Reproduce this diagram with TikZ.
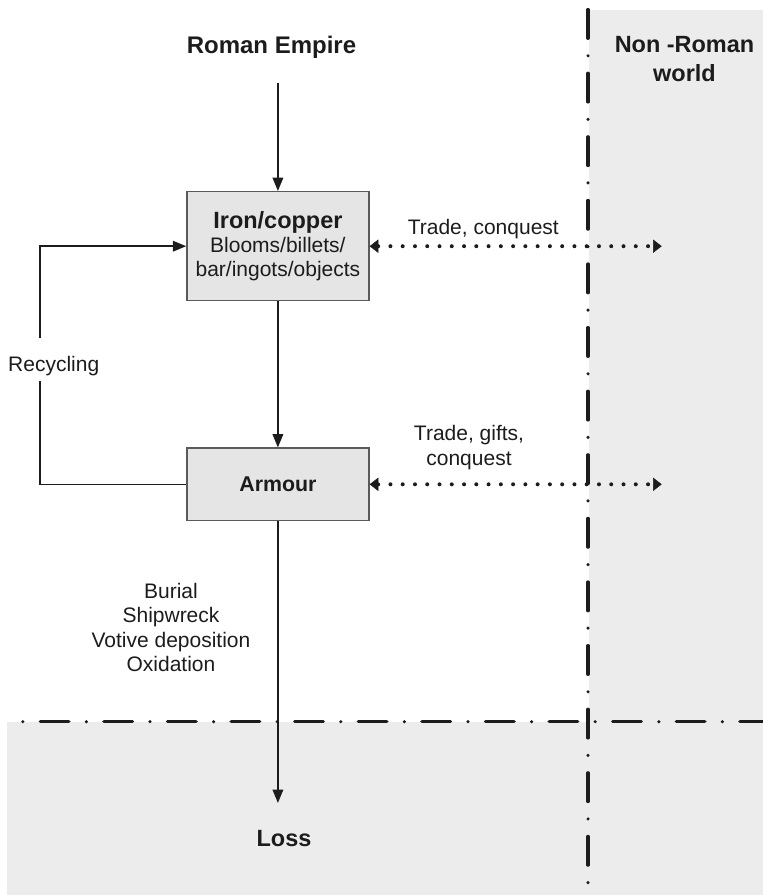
\documentclass[tikz,border=0pt]{standalone}
\usepackage{fontspec}
\setmainfont{Liberation Sans}
\usetikzlibrary{arrows.meta, positioning}

\definecolor{zonegray}{HTML}{ECECEC}
\definecolor{boxgray}{HTML}{E5E5E6}
\definecolor{edgegray}{HTML}{5A5A5A}
\definecolor{inkblack}{HTML}{1C1C1C}

\begin{document}
\begin{tikzpicture}[
    x=0.75pt, y=-0.75pt,
    node distance=109.5pt,
    box/.style={rectangle, draw=edgegray, line width=1.1pt, fill=boxgray, minimum width=136.5pt, align=center, text=inkblack, font=\fontsize{15.75}{18.2}\selectfont},
    title/.style={inner sep=0pt, align=center, text=inkblack, font=\fontsize{17.6}{21.75}\selectfont\bfseries},
    label/.style={inner sep=0pt, align=center, text=inkblack, font=\fontsize{15.75}{18.3}\selectfont},
    arrow/.style={-{Triangle[length=10pt, width=8pt]}, line width=1.1pt, draw=inkblack},
    link/.style={line width=1.1pt, draw=inkblack},
    trade/.style={{Triangle[length=6.5pt, width=10pt, line width=0.4pt]}-{Triangle[length=6.5pt, width=10pt, line width=0.4pt]}, line width=3pt, line cap=round, dash pattern=on 0pt off 9.2pt, draw=inkblack},
    border/.style={line width=2.6pt, line cap=round, dash pattern=on 21.4pt off 13.15pt on 0pt off 13.15pt, draw=inkblack}
]
\useasboundingbox (0,0) rectangle (763,895);

% Zones
\fill[zonegray] (589,10) rectangle (763,895);
\fill[zonegray] (7,721.7) rectangle (763,895);
\draw[border] (588,9.7) -- (588,895);
\draw[border, dash phase=22.7pt] (7,721.7) -- (763,721.7);

% Titles
\node[title, font=\fontsize{18}{21.75}\selectfont\bfseries, anchor=base] (roman) at (271.5,53.3) {Roman Empire};
\node[title] (nonroman) at (684.5,59.5) {Non -Roman\\world};

% Iron/copper
\node[box, minimum height=81.75pt] (iron) at (277.9,246.2) {{\fontsize{17.6}{18.2}\selectfont\bfseries Iron/copper}\\Blooms/billets/\\bar/ingots/objects};

% Armour
\node[box, minimum height=54.2pt, below=of iron, font=\fontsize{16}{18.2}\selectfont\bfseries] (armour) {Armour};

% Loss
\node[title, anchor=base] (loss) at (284,846) {Loss};

% Labels
\node[label, anchor=base] (recycle) at (53.7,371.7) {Recycling};
\node[label, anchor=base] (tradeiron) at (483.3,234) {Trade, conquest};
\node[label] (tradearmour) at (469,447.4) {Trade, gifts,\\conquest};
\node[label] (losses) at (171,627.5) {Burial\\Shipwreck\\Votive deposition\\Oxidation};

% Loop and far ends
\coordinate (loopbot) at (40,380.7);
\coordinate (looptop) at (40,337.7);
\coordinate (reach) at (661.7,246.7);

% Arrows
\draw[arrow, shorten <=18pt] (roman.south -| iron.north) -- (iron.north);
\draw[arrow] (iron) -- (armour);
\draw[arrow, shorten >=20pt] (armour.south) -- (armour.south |- loss.north);
\draw[link] (armour.west) -| (loopbot);
\draw[arrow] (looptop) |- (iron.west);
\draw[trade] (iron.east) -- (iron.east -| reach);
\draw[trade] (armour.east) -- (armour.east -| reach);

\end{tikzpicture}
\end{document}
